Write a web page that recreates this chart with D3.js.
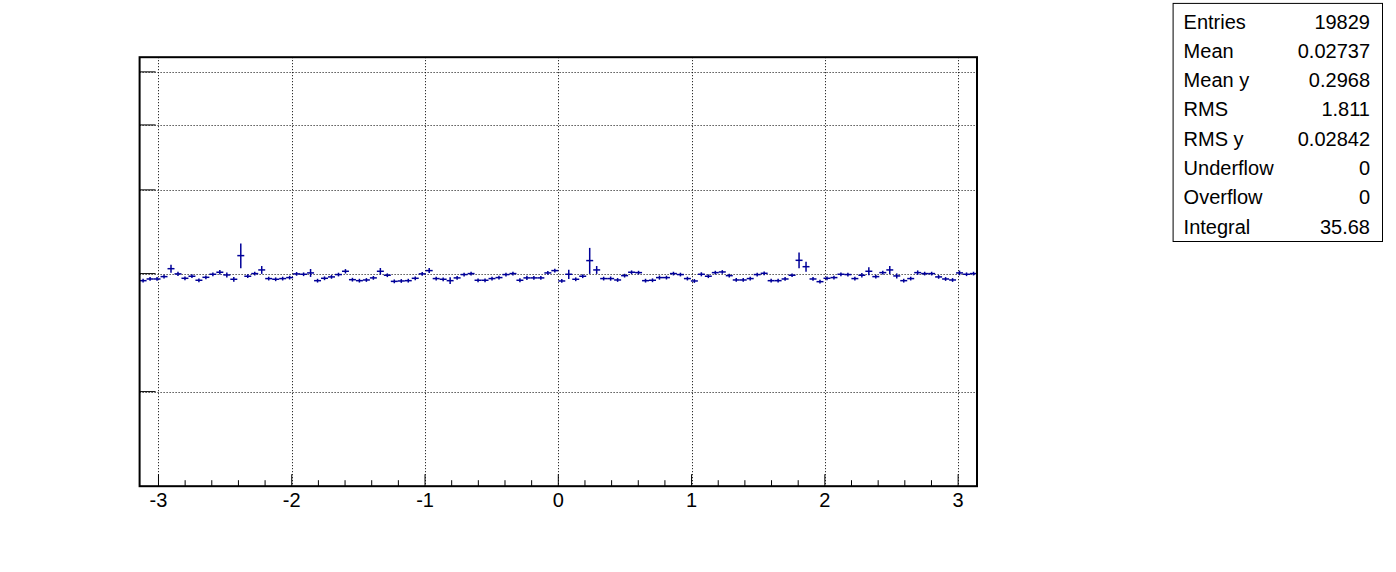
<!DOCTYPE html>
<html><head><meta charset="utf-8">
<script src="https://cdn.jsdelivr.net/npm/d3@7"></script>
<style>body{margin:0;background:#fff}svg{display:block}text{font-family:"Liberation Sans",Arial,Helvetica,sans-serif}</style>
</head><body><svg id="c" width="1396" height="572"></svg>
<script>
// ---- data ----
const xRange = [-Math.PI, Math.PI];
const nBins = 120;
const binValues = [
 0.2928,0.2945,0.2945,0.2969,0.3051,0.2997,0.2952,0.2973,0.2932,0.2962,
 0.2993,0.3014,0.2986,0.2942,0.3191,0.2973,0.3000,0.3038,0.2949,0.2942,
 0.2949,0.2959,0.2997,0.2993,0.3007,0.2928,0.2952,0.2966,0.2990,0.3024,
 0.2938,0.2928,0.2935,0.2956,0.3024,0.2983,0.2921,0.2925,0.2928,0.2952,
 0.2997,0.3031,0.2949,0.2942,0.2928,0.2956,0.2990,0.3000,0.2932,0.2932,
 0.2949,0.2959,0.2990,0.3000,0.2932,0.2956,0.2956,0.2956,0.3007,0.3031,
 0.2925,0.2993,0.2942,0.2973,0.3137,0.3038,0.2949,0.2949,0.2935,0.2979,
 0.3014,0.3010,0.2928,0.2932,0.2959,0.2959,0.3000,0.2990,0.2949,0.2925,
 0.2993,0.2973,0.3010,0.3017,0.2979,0.2935,0.2935,0.2949,0.2990,0.3003,
 0.2928,0.2928,0.2945,0.2983,0.3140,0.3072,0.2945,0.2918,0.2952,0.2959,
 0.2993,0.2990,0.2949,0.2983,0.3024,0.2969,0.3010,0.3038,0.2976,0.2928,
 0.2949,0.3010,0.3000,0.3000,0.2966,0.2945,0.2935,0.3007,0.2993,0.3000
];
const binErrors = [
 0.0019,0.0019,0.0019,0.0019,0.0041,0.0021,0.0019,0.0019,0.0019,0.0019,
 0.0019,0.0023,0.0026,0.0024,0.0135,0.0019,0.0019,0.0041,0.0019,0.0019,
 0.0019,0.0019,0.0019,0.0019,0.0041,0.0019,0.0019,0.0019,0.0019,0.0023,
 0.0019,0.0019,0.0019,0.0019,0.0034,0.0019,0.0019,0.0019,0.0019,0.0019,
 0.0019,0.0026,0.0019,0.0019,0.0034,0.0019,0.0019,0.0019,0.0019,0.0019,
 0.0019,0.0019,0.0019,0.0019,0.0021,0.0021,0.0019,0.0019,0.0019,0.0019,
 0.0019,0.0048,0.0019,0.0019,0.0140,0.0041,0.0019,0.0021,0.0019,0.0019,
 0.0019,0.0019,0.0019,0.0019,0.0021,0.0019,0.0019,0.0019,0.0019,0.0019,
 0.0021,0.0019,0.0019,0.0019,0.0019,0.0019,0.0019,0.0019,0.0019,0.0019,
 0.0019,0.0019,0.0019,0.0019,0.0085,0.0052,0.0019,0.0019,0.0019,0.0019,
 0.0019,0.0019,0.0019,0.0023,0.0041,0.0019,0.0019,0.0041,0.0026,0.0019,
 0.0019,0.0023,0.0019,0.0019,0.0019,0.0019,0.0019,0.0024,0.0019,0.0019
];
const xTicks = [-3,-2,-1,0,1,2,3];
const xTickLabels = ["-3","-2","-1","0","1","2","3"];
const yTicks = [0.2,0.3,0.4,0.5,0.6];
const yDomain = [0.1445, 0.631];
const statLabels = ["Entries","Mean","Mean y","RMS","RMS y","Underflow","Overflow","Integral"];
const statValues = ["19829","0.02737","0.2968","1.811","0.02842","0","0","35.68"];

// ---- layout ----
const W = 1396, H = 572;
const fx0 = 139.6, fx1 = 977, fy0 = 57.2, fy1 = 486.2;
const color = "#000099";

const svg = d3.select("#c");
svg.append("rect").attr("width",W).attr("height",H).attr("fill","#fff");

const x = d3.scaleLinear().domain(xRange).range([fx0, fx1]);
const y = d3.scaleLog().domain(yDomain).range([fy1, fy0]);

// grid
const grid = svg.append("g").attr("stroke","#000").attr("stroke-width",1).attr("stroke-dasharray","1,2");
grid.selectAll("line.gx").data(xTicks).join("line")
  .attr("x1",d=>Math.round(x(d))+0.5).attr("x2",d=>Math.round(x(d))+0.5)
  .attr("y1",fy0).attr("y2",fy1);
grid.selectAll("line.gy").data(yTicks).join("line")
  .attr("y1",d=>Math.round(y(d))+0.5).attr("y2",d=>Math.round(y(d))+0.5)
  .attr("x1",fx0).attr("x2",fx1);

// data: profile error bars
const bw = (xRange[1]-xRange[0])/nBins;
const bins = binValues.map((v,i)=>({lo:xRange[0]+i*bw, hi:xRange[0]+(i+1)*bw, c:xRange[0]+(i+0.5)*bw, v, e:binErrors[i]}));
const g = svg.append("g").attr("stroke",color).attr("stroke-width",1.5);
g.selectAll("line.h").data(bins).join("line")
  .attr("x1",d=>x(d.lo)).attr("x2",d=>x(d.hi))
  .attr("y1",d=>y(d.v)).attr("y2",d=>y(d.v));
g.selectAll("line.v").data(bins).join("line")
  .attr("x1",d=>x(d.c)).attr("x2",d=>x(d.c))
  .attr("y1",d=>y(d.v-d.e)).attr("y2",d=>y(d.v+d.e));

// frame
svg.append("rect").attr("x",fx0).attr("y",fy0).attr("width",fx1-fx0).attr("height",fy1-fy0)
  .attr("fill","none").attr("stroke","#000").attr("stroke-width",2);

// x axis ticks
const ax = svg.append("g").attr("stroke","#000").attr("stroke-width",1);
ax.selectAll("line.maj").data(xTicks).join("line")
  .attr("x1",d=>x(d)).attr("x2",d=>x(d)).attr("y1",fy1).attr("y2",fy1-12);
const minor = d3.range(-32,33,2).map(d=>d/10).filter(d=>d>xRange[0]&&d<xRange[1]&&Math.abs(d-Math.round(d))>1e-6);
ax.selectAll("line.min").data(minor).join("line")
  .attr("x1",d=>x(d)).attr("x2",d=>x(d)).attr("y1",fy1).attr("y2",fy1-6);
svg.append("g").selectAll("text").data(xTicks).join("text")
  .attr("x",d=>x(d)).attr("y",fy1+21).attr("text-anchor","middle")
  .attr("font-size",20).attr("fill","#000").text((d,i)=>xTickLabels[i]);

// y axis ticks (log, no labels)
ax.selectAll("line.ymaj").data(yTicks).join("line")
  .attr("x1",fx0).attr("x2",fx0+16).attr("y1",d=>y(d)).attr("y2",d=>y(d));

// stats box
const sx0 = 1172.6, sx1 = 1382, sy0 = 2.9, sy1 = 241;
svg.append("rect").attr("x",sx0+0.5).attr("y",sy0+0.5).attr("width",sx1-sx0).attr("height",sy1-sy0)
  .attr("fill","#fff").attr("stroke","#000").attr("stroke-width",1);
const st = svg.append("g").attr("font-size",20).attr("fill","#000");
st.selectAll("text.l").data(statLabels).join("text")
  .attr("x",sx0+11).attr("y",(d,i)=>28.5+29.3*i).text(d=>d);
st.selectAll("text.r").data(statValues).join("text")
  .attr("x",sx1-12).attr("y",(d,i)=>28.5+29.3*i).attr("text-anchor","end").text(d=>d);
</script></body></html>
